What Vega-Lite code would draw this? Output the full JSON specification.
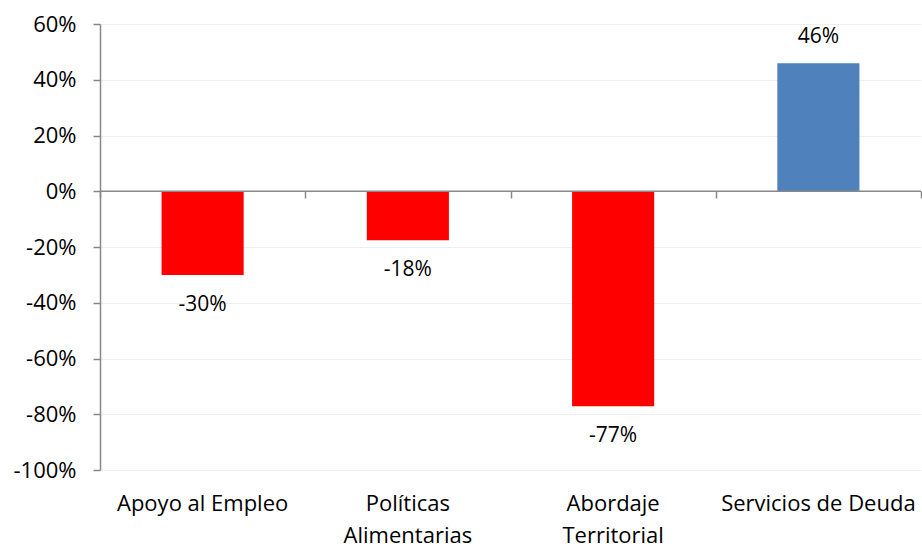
{
  "$schema": "https://vega.github.io/schema/vega-lite/v6.json",
  "autosize": "none",
  "padding": {"left": 100, "top": 24, "right": 1, "bottom": 79},
  "width": 821,
  "height": 446,
  "background": "white",
  "data": {
    "values": [
      {"programa": "Apoyo al Empleo", "variacion": -0.30},
      {"programa": "Políticas Alimentarias", "variacion": -0.176},
      {"programa": "Abordaje Territorial", "variacion": -0.771},
      {"programa": "Servicios de Deuda", "variacion": 0.459}
    ]
  },
  "layer": [
    {
      "mark": {"type": "bar"},
      "encoding": {
        "x": {
          "field": "programa",
          "type": "nominal",
          "sort": null,
          "scale": {"paddingInner": 0.6, "paddingOuter": 0.3},
          "axis": {
            "title": null,
            "domain": false,
            "ticks": false,
            "grid": false,
            "labelAngle": 0,
            "labelPadding": 23,
            "labelFont": "Open Sans",
            "labelFontSize": 22,
            "labelColor": "#000000",
            "labelLineHeight": 32,
            "labelLimit": 400,
            "labelExpr": "datum.label == 'Políticas Alimentarias' ? ['Políticas', 'Alimentarias'] : datum.label == 'Abordaje Territorial' ? ['Abordaje', 'Territorial'] : datum.label"
          }
        },
        "y": {
          "field": "variacion",
          "type": "quantitative",
          "scale": {"domain": [-1, 0.6], "nice": false},
          "axis": {
            "title": null,
            "format": ".0%",
            "values": [-1, -0.8, -0.6, -0.4, -0.2, 0, 0.2, 0.4, 0.6],
            "labelFont": "Open Sans",
            "labelFontSize": 22,
            "labelColor": "#000000",
            "labelPadding": 17,
            "tickSize": 7,
            "tickColor": "#888888",
            "tickWidth": 1.5,
            "domainColor": "#888888",
            "domainWidth": 1.5,
            "grid": true,
            "gridColor": "#eeeeee",
            "gridWidth": 1
          }
        },
        "color": {
          "condition": {"test": "datum.variacion < 0", "value": "#ff0000"},
          "value": "#4f81bd"
        }
      }
    },
    {
      "mark": {"type": "text", "dy": 30, "baseline": "middle", "font": "Open Sans", "fontSize": 21, "color": "#000000"},
      "encoding": {
        "x": {"field": "programa", "type": "nominal", "sort": null, "scale": {"paddingInner": 0.6, "paddingOuter": 0.3}, "axis": null},
        "y": {"field": "variacion", "type": "quantitative"},
        "text": {
          "condition": {"test": "datum.variacion < 0", "field": "variacion", "type": "quantitative", "format": ".0%"},
          "value": ""
        }
      }
    },
    {
      "mark": {"type": "text", "dy": -26, "baseline": "middle", "font": "Open Sans", "fontSize": 21, "color": "#000000"},
      "encoding": {
        "x": {"field": "programa", "type": "nominal", "sort": null, "scale": {"paddingInner": 0.6, "paddingOuter": 0.3}, "axis": null},
        "y": {"field": "variacion", "type": "quantitative"},
        "text": {
          "condition": {"test": "datum.variacion >= 0", "field": "variacion", "type": "quantitative", "format": ".0%"},
          "value": ""
        }
      }
    },
    {
      "mark": {"type": "bar", "opacity": 0},
      "encoding": {
        "x": {
          "field": "programa",
          "type": "nominal",
          "sort": null,
          "scale": {"paddingInner": 0, "paddingOuter": 0},
          "axis": {
            "title": null,
            "orient": "bottom",
            "offset": -279,
            "labels": false,
            "domain": false,
            "grid": false,
            "tickBand": "extent",
            "tickSize": 7,
            "tickColor": "#888888",
            "tickWidth": 1.5
          }
        },
        "y": {"field": "variacion", "type": "quantitative"}
      }
    },
    {
      "data": {"values": [{"cero": 0}]},
      "mark": {"type": "rule", "color": "#888888", "strokeWidth": 1.5},
      "encoding": {
        "y": {"field": "cero", "type": "quantitative"}
      }
    }
  ],
  "resolve": {"scale": {"x": "independent"}, "axis": {"x": "independent"}},
  "config": {
    "view": {"stroke": null},
    "locale": {
      "number": {"decimal": ".", "thousands": ",", "grouping": [3], "currency": ["$", ""], "minus": "-"}
    }
  }
}
